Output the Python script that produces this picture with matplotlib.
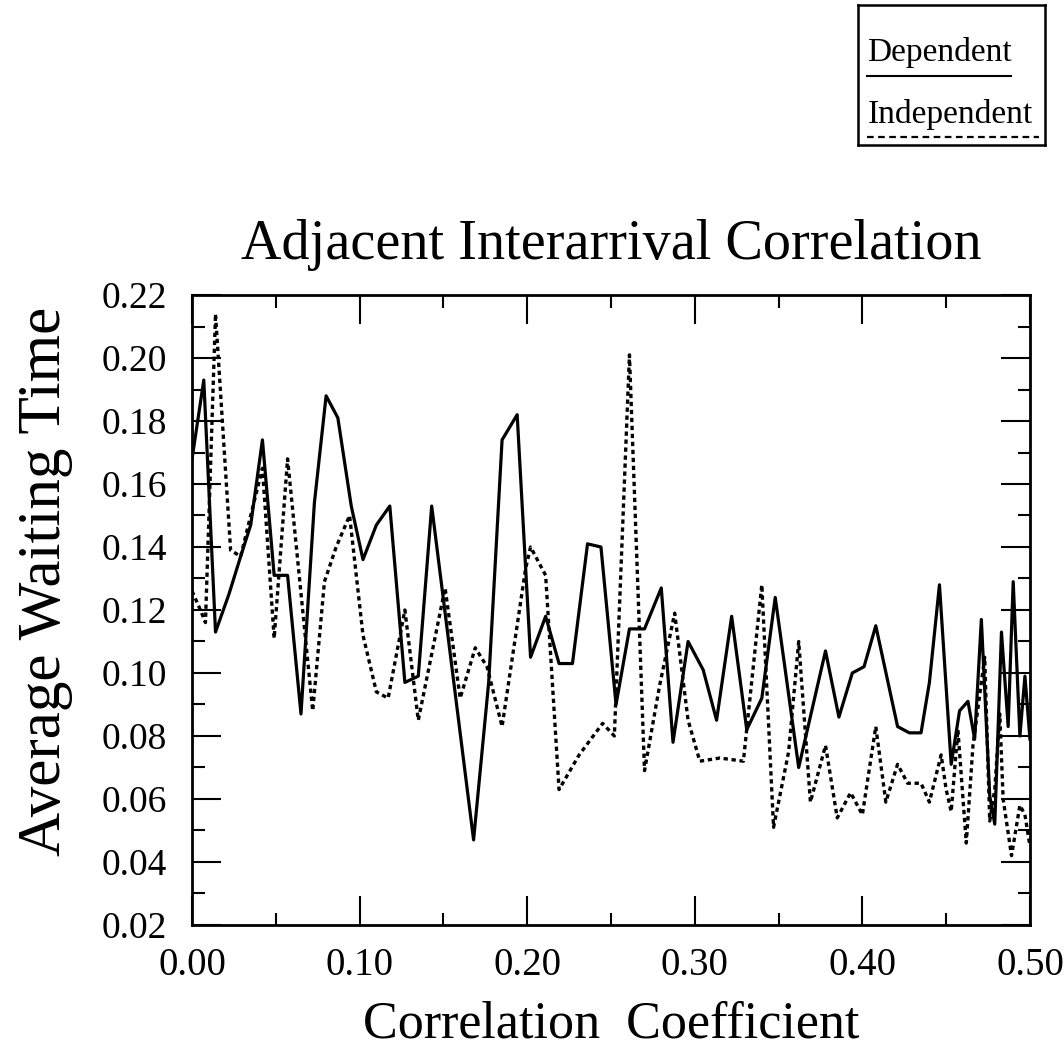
import matplotlib.pyplot as plt
from matplotlib.lines import Line2D

# values
dep_x = [0.000, 0.007, 0.014, 0.022, 0.029, 0.035, 0.042, 0.049, 0.057, 0.065,
         0.073, 0.080, 0.087, 0.095, 0.102, 0.110, 0.118, 0.127, 0.135, 0.143,
         0.168, 0.177, 0.185, 0.194, 0.202, 0.211, 0.219, 0.227, 0.236, 0.244,
         0.253, 0.261, 0.270, 0.280, 0.287, 0.296, 0.305, 0.313, 0.322, 0.331,
         0.340, 0.348, 0.362, 0.378, 0.386, 0.394, 0.401, 0.408, 0.421, 0.428,
         0.435, 0.440, 0.446, 0.453, 0.458, 0.463, 0.467, 0.471, 0.476, 0.479,
         0.483, 0.487, 0.490, 0.494, 0.497, 0.500]
dep_y = [0.168, 0.193, 0.113, 0.125, 0.137, 0.147, 0.174, 0.131, 0.131, 0.087,
         0.154, 0.188, 0.181, 0.153, 0.136, 0.147, 0.153, 0.097, 0.099, 0.153,
         0.047, 0.097, 0.174, 0.182, 0.105, 0.118, 0.103, 0.103, 0.141, 0.140,
         0.090, 0.114, 0.114, 0.127, 0.078, 0.110, 0.101, 0.085, 0.118, 0.082,
         0.092, 0.124, 0.070, 0.107, 0.086, 0.100, 0.102, 0.115, 0.083, 0.081,
         0.081, 0.097, 0.128, 0.071, 0.088, 0.091, 0.079, 0.117, 0.061, 0.052,
         0.113, 0.083, 0.129, 0.080, 0.099, 0.079]

ind_x = [0.000, 0.005, 0.008, 0.014, 0.023, 0.029, 0.035, 0.042, 0.049, 0.057,
         0.072, 0.079, 0.086, 0.094, 0.102, 0.110, 0.117, 0.127, 0.135, 0.151,
         0.160, 0.169, 0.176, 0.185, 0.199, 0.202, 0.211, 0.219, 0.231, 0.245,
         0.252, 0.261, 0.270, 0.279, 0.288, 0.296, 0.303, 0.315, 0.329, 0.340,
         0.347, 0.356, 0.362, 0.369, 0.378, 0.385, 0.393, 0.400, 0.408, 0.414,
         0.421, 0.427, 0.435, 0.440, 0.447, 0.450, 0.453, 0.457, 0.462, 0.466,
         0.473, 0.476, 0.479, 0.482, 0.484, 0.489, 0.494, 0.497, 0.500]
ind_y = [0.126, 0.120, 0.116, 0.214, 0.139, 0.137, 0.150, 0.165, 0.111, 0.168,
         0.088, 0.129, 0.140, 0.150, 0.112, 0.094, 0.092, 0.120, 0.085, 0.127,
         0.092, 0.108, 0.102, 0.083, 0.133, 0.140, 0.131, 0.063, 0.074, 0.084,
         0.080, 0.201, 0.069, 0.096, 0.119, 0.085, 0.072, 0.073, 0.072, 0.128,
         0.051, 0.075, 0.110, 0.059, 0.077, 0.054, 0.062, 0.055, 0.083, 0.059,
         0.071, 0.065, 0.065, 0.059, 0.074, 0.063, 0.056, 0.082, 0.046, 0.077,
         0.105, 0.053, 0.063, 0.087, 0.060, 0.042, 0.058, 0.055, 0.045]

x_ticks = [0.0, 0.1, 0.2, 0.3, 0.4, 0.5]
y_ticks = [0.02, 0.04, 0.06, 0.08, 0.10, 0.12, 0.14, 0.16, 0.18, 0.20, 0.22]

plt.rcParams['font.family'] = ['Liberation Serif', 'DejaVu Serif']

fig = plt.figure(figsize=(10.64, 10.57), dpi=100)
ax = fig.add_axes([0.1805, 0.1249, 0.7875, 0.596])

dotted = (0, (1.3, 1.1))
ax.plot(dep_x, dep_y, color='black', lw=2.3)
ax.plot(ind_x, ind_y, color='black', lw=2.4, linestyle=dotted)

ax.set_xlim(0, 0.5)
ax.set_ylim(0.02, 0.22)
ax.set_xticks(x_ticks)
ax.set_xticks([0.05, 0.15, 0.25, 0.35, 0.45], minor=True)
ax.set_yticks(y_ticks)
ax.set_yticks([0.03 + 0.02 * i for i in range(10)], minor=True)
ax.set_xticklabels(['%.2f' % v for v in x_ticks])
ax.set_yticklabels(['%.2f' % v for v in y_ticks])

ax.tick_params(which='both', direction='in', top=True, right=True, width=1.5)
ax.tick_params(which='major', length=21)
ax.tick_params(which='minor', length=9)
ax.tick_params(axis='x', labelsize=28, pad=16)
ax.tick_params(axis='y', labelsize=27, pad=18)
for s in ax.spines.values():
    s.set_linewidth(2)

ax.set_title('Adjacent Interarrival Correlation', fontsize=40.5, pad=26)
ax.set_xlabel('Correlation  Coefficient', fontsize=37.5, labelpad=12)
ax.set_ylabel('Average Waiting Time', fontsize=44)
ax.yaxis.set_label_coords(-0.142, 0.545)

# boxed key in the top right corner
key = fig.add_axes([858 / 1064, 1 - 145 / 1057, 187 / 1064, 140 / 1057])
key.set_xlim(0, 1)
key.set_ylim(0, 1)
key.set_xticks([])
key.set_yticks([])
for s in key.spines.values():
    s.set_linewidth(1.8)
key.text(0.05, 0.66, 'Dependent', fontsize=24, va='center')
key.add_line(Line2D([0.05, 0.82], [0.49, 0.49], color='black', lw=1.5))
key.text(0.05, 0.22, 'Independent', fontsize=24, va='center')
key.add_line(Line2D([0.05, 0.97], [0.06, 0.06], color='black', lw=1.6,
                    linestyle=(0, (3, 2))))

fig.savefig('out.png', dpi=100)
